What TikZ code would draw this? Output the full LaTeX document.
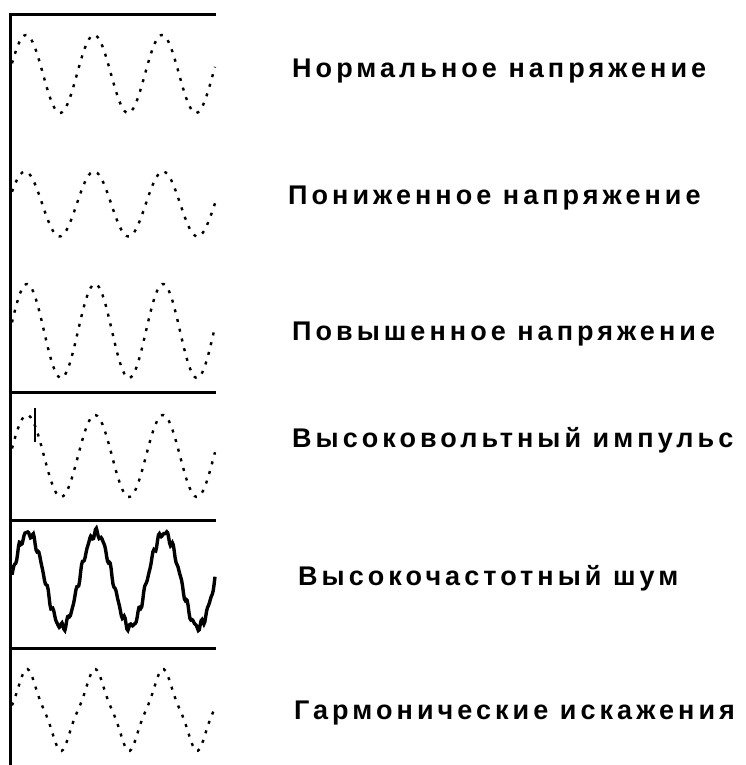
\documentclass[tikz,border=0pt]{standalone}
\usepackage{fontspec}
\newfontfamily\lblfont{Liberation Sans}[LetterSpace=15]
\usetikzlibrary{positioning}

\begin{document}
\begin{tikzpicture}[x=1pt,y=-1pt,
  frame/.style={line width=3pt},
  wave/.style={line width=2.4pt, dash pattern=on 3pt off 7pt},
  noisy/.style={line width=3.4pt, line join=miter},
  lbl/.style={anchor=base west, inner sep=0pt, font=\lblfont\bfseries\fontsize{27}{31}\selectfont}]
\useasboundingbox (0,0) rectangle (745,765);
\draw[frame] (8.5,14.5) -- (216,14.5);
\draw[frame] (10,13) -- (10,765);
\draw[frame] (8.5,392.5) -- (216,392.5);
\draw[frame] (8.5,520) -- (216,520);
\draw[frame] (8.5,648) -- (216,648);
\draw[wave] plot[domain=12:215, samples=120] (\x, {74-39*cos((\x-26)*5.294)});
\draw[wave] plot[domain=12:215, samples=120] (\x, {204-32.5*cos((\x-25)*5.217)});
\draw[wave] plot[domain=12:215, samples=120] (\x, {331-47*cos((\x-27)*5.294)});
\draw[wave] plot[domain=12:215, samples=120] (\x, {456-41*cos((\x-27)*5.294)});
\draw[line width=2.4pt] (35,408) -- (35,442);
\draw[noisy] plot[domain=12:215, samples=220] (\x, {580-47*cos((\x-28)*5.294)+3*sin(\x*51.4)+2*cos((\x-12)*75)});
\draw[wave] plot[domain=12:215, samples=120] (\x, {710-41*(cos((\x-27)*5.294)+cos((\x-27)*15.88)/9)/1.11});
\node[lbl] (lblNormal) at (292,78) {Нормальное напряжение};
\node[lbl] (lblLow) at (288,204) {Пониженное напряжение};
\node[lbl] (lblHigh) at (292,340) {Повышенное напряжение};
\node[lbl] (lblImpulse) at (292,447) {Высоковольтный импульс};
\node[lbl] (lblNoise) at (298,585) {Высокочастотный шум};
\node[lbl] (lblHarm) at (294,719) {Гармонические искажения};
\end{tikzpicture}
\end{document}
